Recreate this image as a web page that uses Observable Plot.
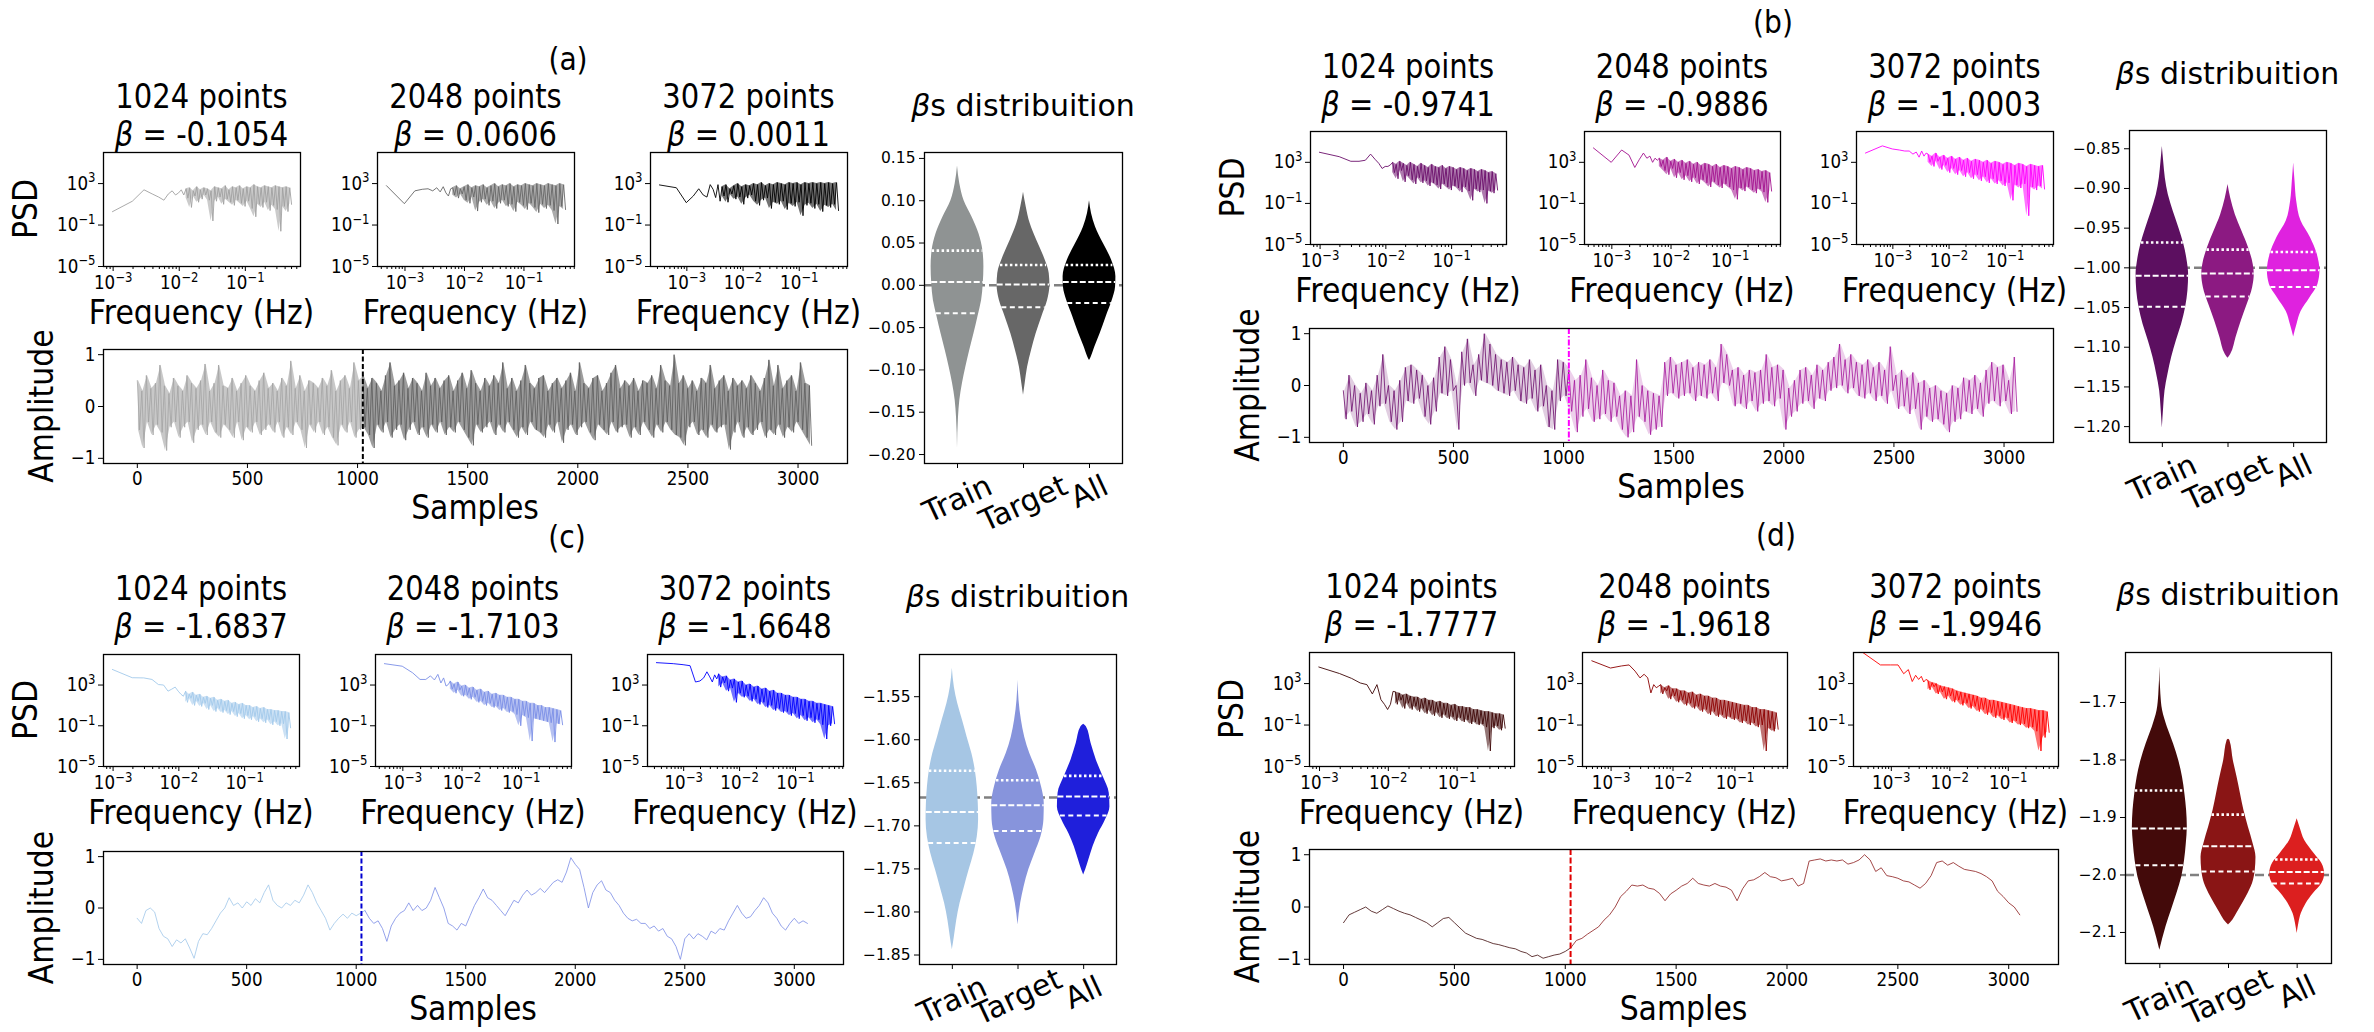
<!DOCTYPE html>
<html><head><meta charset="utf-8">
<script src="https://cdn.jsdelivr.net/npm/d3@7"></script>
<script src="https://cdn.jsdelivr.net/npm/@observablehq/plot@0.6"></script>
<style>
body{margin:0;background:#fff}
#fig{position:relative;width:2374px;height:1032px;overflow:hidden;background:#fff;font-family:"DejaVu Sans"}
</style>
</head><body><div id="fig"></div>
<script>
// ---------------- DATA ----------------
const categories = ["Train", "Target", "All"];
const psdSizes = [1024, 2048, 3072];
const panelLetters = ["(a)", "(b)", "(c)", "(d)"];
const betaLabelsA = ["-0.1054", "0.0606", "0.0011"];
const betaLabelsB = ["-0.9741", "-0.9886", "-1.0003"];
const betaLabelsC = ["-1.6837", "-1.7103", "-1.6648"];
const betaLabelsD = ["-1.7777", "-1.9618", "-1.9946"];
const refBeta = [0, -1, -1.667, -2];

// PSD: log10 power for the first 12 frequency bins, then upper/lower envelope of the dense part
const psdLowA = [[0.29,1.3,2.4,2.0,1.7,1.4,2.0,2.3,1.9,2.1,2.4,1.9],[2.8,1.06,2.3,2.45,2.5,2.3,2.6,2.2,2.7,2.1,1.8,2.5],[2.87,2.6,1.16,1.8,2.5,1.9,1.7,2.9,2.45,1.65,2.9,1.3]];
const psdHiA = [[2.5,2.6,2.3,2.7,2.4,2.6,2.5,2.3,2.7,2.6,2.5,2.8,2.4,2.7,2.6,2.8,2.5,2.7,2.6,2.9,2.7,2.6,2.8,2.7,2.6,2.8,2.7,2.6,2.7,2.6],
  [2.6,2.8,2.5,2.7,2.9,2.6,2.8,2.7,2.9,2.6,2.8,3.0,2.7,2.9,2.8,3.0,2.7,2.9,2.8,3.0,2.9,2.8,3.0,2.9,2.8,3.0,2.9,2.8,3.0,2.9],
  [2.7,2.9,2.5,2.8,3.0,2.7,2.9,2.8,3.0,2.9,3.1,2.8,3.0,2.9,3.1,3.0,2.9,3.1,3.0,3.1,2.9,3.1,3.0,3.1,3.0,3.1,3.0,3.1,3.0,3.1]];
const psdLoA = [[1.6,0.7,1.8,1.2,1.5,1.9,1.4,-0.6,1.3,1.7,1.0,1.5,1.2,0.9,1.4,1.1,0.8,1.3,0.6,-0.2,1.0,0.7,1.2,0.4,0.9,0.5,-1.6,0.8,0.3,1.0],
  [1.9,1.6,2.0,1.4,1.1,1.7,0.35,1.2,1.5,0.9,1.3,0.6,1.1,1.4,0.8,1.0,0.3,1.2,0.9,0.5,1.1,0.7,0.2,1.0,0.6,0.9,0.4,-0.9,0.8,0.5],
  [1.8,1.2,2.0,1.5,1.7,1.0,1.6,1.9,1.3,0.9,1.4,1.6,0.6,1.2,1.0,1.3,0.5,1.1,0.8,1.2,-0.1,0.9,1.1,0.6,1.0,0.3,0.9,0.7,1.0,0.4]];

const psdLowB = [[3.98,3.55,3.1,3.1,3.2,3.8,3.3,2.9,2.4,2.6,2.6,2.75],[4.4,3.0,4.2,3.7,2.5,3.3,3.9,3.4,3.6,3.0,3.4,3.2],[3.9,4.6,4.3,4.2,4.1,4.1,3.8,4.0,3.5,4.1,3.6,3.9]];
const psdHiB = [[3.0,2.8,3.1,2.9,2.7,3.0,2.8,2.6,2.9,2.7,2.5,2.8,2.6,2.5,2.7,2.4,2.6,2.5,2.3,2.5,2.4,2.2,2.4,2.3,2.1,2.3,2.2,2.0,2.1,1.9],
  [3.4,3.2,3.5,3.1,3.3,3.0,3.2,2.9,3.1,2.8,3.0,2.7,2.9,2.8,2.6,2.8,2.5,2.7,2.6,2.4,2.6,2.5,2.3,2.5,2.4,2.2,2.3,2.1,2.2,2.0],
  [3.8,3.6,3.9,3.5,3.7,3.4,3.6,3.3,3.5,3.2,3.4,3.1,3.3,3.2,3.0,3.2,2.9,3.1,3.0,2.8,3.0,2.9,2.7,2.9,2.8,2.6,2.8,2.7,2.6,2.7]];
const psdLoB = [[2.0,1.4,2.2,1.1,1.7,1.3,0.9,1.5,1.0,1.2,0.7,1.0,0.8,0.4,0.9,0.6,0.3,0.7,0.5,0.1,0.6,0.2,-0.7,0.4,0.1,0.3,-1.0,0.2,0.0,0.3],
  [2.6,2.2,1.8,2.4,1.5,2.0,1.3,1.7,1.1,1.5,0.9,1.3,1.0,0.6,1.1,0.8,0.5,0.9,0.6,0.3,-0.6,0.5,0.2,0.6,0.3,0.0,0.4,0.1,-0.9,0.2],
  [3.0,2.6,3.1,2.3,2.7,2.0,2.4,1.8,2.2,1.6,2.0,1.4,1.8,1.2,1.6,1.0,1.4,0.9,1.2,0.7,1.0,-0.7,0.8,0.5,0.9,-2.2,0.6,0.3,0.7,0.4]];

const psdLowC = [[4.53,3.72,3.7,3.55,3.05,3.0,2.4,2.6,2.8,2.4,2.1,1.9],[5.1,4.85,4.2,3.55,3.55,3.9,3.5,4.05,3.2,3.7,2.9,3.05],[5.2,5.1,5.0,4.9,3.3,3.4,3.7,4.3,3.8,3.3,4.0,3.6]];
const psdHiC = [[2.4,2.1,2.3,2.0,2.1,1.8,1.9,1.7,1.8,1.5,1.6,1.4,1.5,1.2,1.3,1.1,1.2,1.0,1.0,0.8,0.9,0.7,0.8,0.6,0.6,0.5,0.5,0.4,0.4,0.3],
  [3.4,3.1,3.3,2.9,3.0,2.7,2.8,2.5,2.6,2.3,2.4,2.1,2.2,2.0,2.0,1.8,1.8,1.6,1.6,1.4,1.4,1.2,1.2,1.0,1.0,0.8,0.8,0.7,0.6,0.5],
  [4.1,3.8,3.9,3.5,3.6,3.3,3.4,3.0,3.1,2.8,2.9,2.6,2.7,2.4,2.5,2.2,2.2,2.0,2.0,1.8,1.8,1.6,1.6,1.4,1.4,1.2,1.2,1.1,1.0,0.9]];
const psdLoC = [[1.3,1.7,1.0,1.4,0.9,1.2,0.6,1.0,0.4,0.7,0.3,0.5,0.1,0.4,-0.1,0.2,-0.3,0.0,-0.4,-0.1,-0.6,-0.3,-0.7,-0.4,-0.9,-0.6,-1.0,-0.8,-2.3,-1.2],
  [2.6,2.2,2.5,1.9,2.0,1.6,1.8,1.3,1.4,1.0,1.2,0.8,0.9,0.5,0.7,0.3,0.4,0.1,-1.0,0.0,-0.2,-2.5,-0.3,-0.4,-0.5,-0.6,-0.7,-2.6,-0.8,-0.9],
  [2.8,3.2,2.4,2.7,1.3,2.2,1.8,1.9,1.4,1.6,1.1,1.3,0.8,1.0,0.5,0.7,0.3,0.4,0.0,0.2,-0.3,0.0,-0.5,-0.2,-0.7,-0.4,-0.9,-2.3,-1.0,-0.8]];

const psdLowD = [[4.6,3.97,3.5,3.06,2.9,2.0,2.9,1.45,1.0,0.5,1.0,2.25],[5.2,4.5,4.7,4.8,4.2,3.55,3.9,3.55,2.1,2.9,2.6,2.75],[6.0,4.8,4.8,4.8,3.95,4.35,3.2,3.8,3.4,3.7,3.15,3.4]];
const psdHiD = [[2.2,2.1,1.9,2.0,1.8,1.7,1.7,1.5,1.6,1.4,1.4,1.2,1.3,1.1,1.1,0.9,1.0,0.8,0.8,0.7,0.7,0.5,0.5,0.4,0.3,0.3,0.2,0.1,0.1,0.0],
  [2.9,2.6,2.8,2.5,2.5,2.3,2.3,2.1,2.2,1.9,2.0,1.8,1.8,1.6,1.6,1.4,1.4,1.3,1.2,1.1,1.0,0.9,0.9,0.7,0.7,0.5,0.5,0.4,0.3,0.2],
  [3.3,3.1,3.0,2.8,2.7,2.6,2.5,2.3,2.2,2.1,2.0,1.9,1.8,1.6,1.6,1.4,1.4,1.3,1.2,1.1,1.0,0.9,0.8,0.7,0.6,0.6,0.5,0.4,0.4,0.3]];
const psdLoD = [[1.0,1.4,0.6,1.1,0.5,0.8,0.3,0.6,0.1,0.4,-0.1,0.2,-0.3,0.0,-0.4,-0.2,-0.6,-0.3,-0.7,-0.5,-0.9,-0.7,-1.0,-0.9,-1.2,-3.5,-1.3,-1.1,-1.5,-1.3],
  [2.0,2.3,1.5,1.8,1.2,1.4,0.9,1.1,0.6,0.8,0.3,0.5,0.0,0.3,-0.2,0.0,-0.4,-0.2,-0.5,-0.4,-0.8,-0.6,-1.0,-0.8,-1.2,-1.0,-3.5,-1.3,-1.6,-1.4],
  [2.4,2.7,2.0,2.2,1.5,1.8,1.2,1.4,0.9,1.1,0.6,0.8,0.3,0.5,0.0,0.2,-0.3,-0.1,-0.5,-0.3,-0.8,-0.6,-1.0,-0.9,-1.3,-1.2,-1.6,-3.5,-2.2,-1.7]];

// Time series. (a),(b): upper/lower swing of the noisy trace; (c) every 20 samples; (d) every 25 samples
const tsHiA = [0.5,0.3,0.6,0.35,0.45,0.8,0.4,0.25,0.55,0.4, 0.3,0.6,0.45,0.35,0.5,0.82,0.3,0.45,0.8,0.4, 0.35,0.55,0.3,0.45,0.6,0.4,0.3,0.5,0.65,0.35,
  0.45,0.3,0.55,0.4,0.88,0.35,0.6,0.3,0.5,0.45, 0.35,0.55,0.4,0.7,0.3,0.5,0.6,0.35,0.85,0.5, 0.6,0.35,0.55,0.45,0.3,0.6,0.85,0.4,0.5,0.65,
  0.35,0.55,0.45,0.3,0.65,0.4,0.55,0.35,0.5,0.6, 0.3,0.5,0.65,0.35,0.7,0.45,0.3,0.55,0.4,0.6, 0.45,0.85,0.35,0.55,0.3,0.5,0.8,0.45,0.35,0.55,
  0.6,0.3,0.45,0.55,0.35,0.5,0.65,0.3,0.85,0.45, 0.35,0.55,0.6,0.3,0.45,0.65,0.8,0.35,0.5,0.4, 0.55,0.3,0.5,0.45,0.6,0.35,0.8,0.5,0.4,1.0,
  0.45,0.6,0.35,0.5,0.3,0.55,0.45,0.8,0.35,0.5, 0.6,0.3,0.55,0.4,0.5,0.35,0.6,0.45,0.3,0.55, 0.9,0.4,0.8,0.35,0.5,0.6,0.3,0.85,0.45,0.4];
const tsLoA = [-0.45,-0.8,-0.3,-0.55,-0.35,-0.5,-0.85,-0.4,-0.3,-0.6, -0.4,-0.3,-0.7,-0.45,-0.35,-0.55,-0.3,-0.5,-0.6,-0.35, -0.45,-0.6,-0.3,-0.65,-0.4,-0.5,-0.3,-0.55,-0.45,-0.35,
  -0.5,-0.3,-0.6,-0.4,-0.55,-0.3,-0.45,-0.8,-0.35,-0.5, -0.3,-0.55,-0.4,-0.6,-0.75,-0.35,-0.5,-0.3,-0.6,-0.45, -0.4,-0.55,-0.8,-0.35,-0.5,-0.3,-0.6,-0.45,-0.35,-0.65,
  -0.45,-0.3,-0.55,-0.4,-0.6,-0.35,-0.5,-0.3,-0.55,-0.4, -0.5,-0.3,-0.45,-0.6,-0.75,-0.35,-0.5,-0.4,-0.3,-0.55, -0.35,-0.5,-0.3,-0.45,-0.6,-0.4,-0.55,-0.3,-0.45,-0.5,
  -0.6,-0.35,-0.5,-0.3,-0.7,-0.45,-0.35,-0.55,-0.4,-0.3, -0.5,-0.65,-0.35,-0.45,-0.55,-0.3,-0.5,-0.4,-0.35,-0.6, -0.4,-0.55,-0.3,-0.45,-0.6,-0.35,-0.5,-0.3,-0.45,-0.55,
  -0.6,-0.75,-0.4,-0.3,-0.55,-0.45,-0.6,-0.35,-0.5,-0.4, -0.35,-0.83,-0.5,-0.3,-0.6,-0.4,-0.55,-0.45,-0.3,-0.6, -0.45,-0.55,-0.35,-0.6,-0.4,-0.5,-0.3,-0.45,-0.6,-0.75];
const tsHiB = [-0.1,0.2,0.0,-0.15,0.05,-0.1,0.2,0.6,0.0,-0.1, 0.1,0.35,0.4,0.3,0.2,0.0,0.15,0.55,0.75,0.5, 0.0,0.65,0.9,0.4,0.6,1.0,0.8,0.6,0.5,0.45,
  0.55,0.4,0.35,0.5,0.3,0.4,0.0,-0.1,0.5,0.45, 0.3,0.1,0.2,0.5,0.15,0.0,0.3,0.1,0.05,-0.2, -0.1,-0.2,0.5,0.0,-0.1,-0.15,-0.2,0.45,0.55,0.4,
  0.45,0.5,0.35,0.45,0.4,0.5,0.35,0.8,0.6,0.3, 0.35,0.2,0.3,0.25,0.3,0.6,0.35,0.4,0.3,-0.05, 0.1,0.3,0.35,0.2,0.4,0.3,0.45,0.55,0.8,0.5,
  0.6,0.45,0.4,0.5,0.35,0.45,0.3,0.75,0.2,0.3, 0.15,0.25,0.05,0.1,-0.05,0.0,-0.1,-0.15,0.0,-0.05, 0.15,0.1,0.2,0.05,0.3,0.45,0.35,0.4,0.1,0.55];
const tsLoB = [-0.65,-0.5,-0.8,-0.7,-0.55,-0.75,-0.4,-0.35,-0.7,-0.85, -0.7,-0.3,-0.35,-0.25,-0.6,-0.75,-0.5,-0.15,-0.2,-0.1, -0.85,0.0,0.05,-0.2,0.1,0.05,0.0,-0.1,-0.15,-0.2,
  -0.1,-0.3,-0.35,-0.25,-0.5,-0.4,-0.8,-0.85,-0.3,-0.2, -0.5,-0.9,-0.6,-0.45,-0.7,-0.65,-0.55,-0.7,-0.6,-0.85, -1.0,-0.9,-0.6,-0.7,-0.95,-0.85,-0.8,-0.2,-0.15,-0.25,
  -0.2,-0.15,-0.3,-0.2,-0.25,-0.15,-0.3,0.05,0.0,-0.4, -0.35,-0.45,-0.3,-0.5,-0.35,-0.3,-0.4,-0.25,-0.85,-0.6, -0.5,-0.35,-0.3,-0.45,-0.25,-0.3,-0.1,-0.05,0.0,-0.15,
  -0.05,-0.2,-0.25,-0.15,-0.3,-0.2,-0.35,-0.1,-0.45,-0.4, -0.55,-0.45,-0.85,-0.6,-0.7,-0.65,-0.75,-0.9,-0.7,-0.65, -0.5,-0.55,-0.45,-0.6,-0.35,-0.3,-0.4,-0.3,-0.55,-0.5];
const tsC = [-0.2,-0.3,-0.05,0.0,-0.08,-0.4,-0.55,-0.6,-0.75,-0.62, -0.68,-0.6,-0.78,-0.98,-0.65,-0.5,-0.52,-0.4,-0.25,-0.1,
  0.0,0.2,0.05,0.1,0.0,0.12,0.05,0.18,0.1,0.3, 0.45,0.15,0.05,0.0,0.1,0.05,0.15,0.1,0.25,0.45,
  0.3,0.1,-0.05,-0.2,-0.43,-0.3,-0.2,-0.12,-0.2,-0.1, -0.15,-0.1,-0.05,-0.2,-0.3,-0.25,-0.4,-0.65,-0.35,-0.2,
  -0.1,-0.05,0.1,-0.05,0.05,-0.05,0.0,0.15,0.4,0.2, 0.0,-0.3,-0.35,-0.43,-0.3,-0.35,-0.15,0.05,0.2,0.37,
  0.2,0.15,0.05,-0.05,-0.15,0.0,0.15,0.1,0.25,0.35, 0.25,0.3,0.38,0.3,0.4,0.5,0.55,0.5,0.7,0.98,
  0.85,0.75,0.4,0.0,0.3,0.45,0.53,0.35,0.3,0.15, 0.05,-0.1,-0.2,-0.25,-0.22,-0.3,-0.3,-0.4,-0.35,-0.45,
  -0.4,-0.55,-0.6,-0.75,-1.0,-0.6,-0.5,-0.6,-0.5,-0.55, -0.62,-0.45,-0.5,-0.4,-0.43,-0.25,-0.1,0.05,-0.1,-0.2,
  -0.17,-0.05,0.05,0.2,0.1,-0.1,-0.2,-0.35,-0.43,-0.3, -0.2,-0.3,-0.25,-0.3];
const tsD = [-0.3,-0.15,-0.1,-0.05,0.0,-0.08,-0.12,-0.05,0.02,-0.03, -0.08,-0.12,-0.15,-0.2,-0.25,-0.3,-0.38,-0.3,-0.22,-0.2,
  -0.3,-0.4,-0.5,-0.55,-0.6,-0.62,-0.66,-0.7,-0.72,-0.75, -0.78,-0.8,-0.85,-0.88,-0.95,-0.92,-0.98,-0.95,-0.92,-0.9,
  -0.85,-0.78,-0.64,-0.6,-0.52,-0.45,-0.38,-0.25,-0.15,0.0, 0.2,0.3,0.42,0.4,0.42,0.36,0.34,0.26,0.12,0.25,
  0.32,0.4,0.45,0.55,0.45,0.42,0.4,0.45,0.4,0.38, 0.32,0.12,0.35,0.5,0.52,0.58,0.66,0.58,0.56,0.5,
  0.52,0.55,0.4,0.45,0.88,0.9,0.92,0.88,0.9,0.88, 0.9,0.82,0.85,0.9,1.0,0.9,0.68,0.75,0.6,0.58,
  0.55,0.5,0.48,0.42,0.36,0.45,0.6,0.85,0.88,0.8, 0.85,0.78,0.72,0.7,0.68,0.64,0.58,0.5,0.3,0.2, 0.08,0.0,-0.15];

// Violins: beta values (top to bottom) and relative density width; quartiles [q75, median, q25]
const vBetaA = [[0.141,0.12,0.10,0.08,0.061,0.041,0.022,0.002,-0.018,-0.037,-0.057,-0.077,-0.097,-0.116,-0.136,-0.156,-0.193],
  [0.110,0.093,0.073,0.053,0.033,0.014,0.0,-0.018,-0.037,-0.057,-0.077,-0.097,-0.116,-0.130],
  [0.100,0.085,0.069,0.049,0.030,0.010,-0.002,-0.018,-0.037,-0.057,-0.073,-0.085,-0.089]];
const vDensA = [[0,7,20,45,65,77,80,78,73,62,50,37,25,15,7,3,0],[0,8,20,40,62,77,79,72,55,38,24,12,5,0],[0,6,18,42,66,79,78,68,50,32,16,5,0]];
const vQuartA = [[0.041,0.004,-0.033],[0.024,0.001,-0.026],[0.024,0.004,-0.021]];
const vBetaB = [[-0.847,-0.866,-0.887,-0.908,-0.929,-0.950,-0.971,-0.992,-1.008,-1.029,-1.050,-1.071,-1.092,-1.113,-1.134,-1.155,-1.176,-1.202],
  [-0.895,-0.912,-0.933,-0.954,-0.975,-0.996,-1.008,-1.025,-1.046,-1.067,-1.088,-1.109,-1.114],
  [-0.868,-0.891,-0.916,-0.941,-0.962,-0.983,-1.004,-1.021,-1.038,-1.055,-1.071,-1.087]];
const vDensB = [[0,4,9,18,33,50,65,75,79,77,70,58,42,28,17,8,4,0],[0,8,22,42,62,76,79,74,58,40,24,8,0],[0,4,9,22,50,70,78,72,48,22,10,0]];
const vQuartB = [[-0.968,-1.010,-1.049],[-0.977,-1.007,-1.036],[-0.980,-1.003,-1.024]];
const vBetaC = [[-1.517,-1.539,-1.558,-1.577,-1.597,-1.616,-1.635,-1.655,-1.674,-1.693,-1.713,-1.732,-1.751,-1.771,-1.790,-1.810,-1.829,-1.844],
  [-1.531,-1.554,-1.577,-1.597,-1.616,-1.635,-1.655,-1.674,-1.693,-1.713,-1.732,-1.751,-1.771,-1.790,-1.815],
  [-1.582,-1.585,-1.604,-1.624,-1.643,-1.662,-1.678,-1.693,-1.709,-1.724,-1.740,-1.751,-1.757]];
const vDensC = [[0,6,16,30,44,58,68,74,77,78,74,64,50,36,23,13,6,0],[0,3,10,20,35,55,70,78,77,68,50,32,18,8,0],[0,8,22,38,58,76,78,65,44,28,15,6,0]];
const vQuartC = [[-1.636,-1.684,-1.720],[-1.647,-1.676,-1.706],[-1.642,-1.666,-1.688]];
const vBetaD = [[-1.638,-1.686,-1.714,-1.743,-1.772,-1.801,-1.830,-1.859,-1.888,-1.917,-1.946,-1.975,-2.003,-2.032,-2.061,-2.090,-2.131],
  [-1.764,-1.766,-1.801,-1.830,-1.859,-1.888,-1.917,-1.946,-1.969,-1.992,-2.015,-2.038,-2.061,-2.084,-2.087],
  [-1.902,-1.917,-1.940,-1.963,-1.980,-1.998,-2.015,-2.032,-2.050,-2.067,-2.084,-2.102]];
const vDensD = [[0,3,8,22,40,55,66,73,78,80,77,72,64,50,34,18,0],[0,4,14,25,35,45,58,72,80,78,70,52,30,5,0],[0,8,22,50,72,80,72,48,26,12,5,0]];
const vQuartD = [[-1.853,-1.919,-1.983],[-1.895,-1.950,-1.994],[-1.973,-1.995,-2.015]];

const vTicksA = [-0.20,-0.15,-0.10,-0.05,0.00,0.05,0.10,0.15];
const vTicksB = [-1.20,-1.15,-1.10,-1.05,-1.00,-0.95,-0.90,-0.85];
const vTicksC = [-1.85,-1.80,-1.75,-1.70,-1.65,-1.60,-1.55];
const vTicksD = [-2.1,-2.0,-1.9,-1.8,-1.7];
const tsTicks = [0,500,1000,1500,2000,2500,3000];
const ampTicks = [-1,0,1];
const psdYTicks = [1e-5,1e-1,1e3];
const psdXTicks = [1e-3,1e-2,1e-1];

// ---------------- LAYOUT & STYLE ----------------
const layouts = [
  {letter:[568,70], title:[108,146], vTitle:116, psd:[[103,300],[377,574],[650,847]], psdY:[152,266], ts:[103,847,349,463], vio:[924,1122,152,463], vDom:[-0.2106,0.157]},
  {letter:[1773,33], title:[78,116], vTitle:84, psd:[[1310,1506],[1584,1780],[1856,2053]], psdY:[131,244], ts:[1309,2053,328,442], vio:[2129,2326,130,442], vDom:[-1.220,-0.827]},
  {letter:[567,548], title:[600,638], vTitle:607, psd:[[103,299],[375,571],[647,843]], psdY:[654,766], ts:[103,843,851,964], vio:[919,1116,654,964], vDom:[-1.861,-1.501]},
  {letter:[1776,546], title:[598,636], vTitle:605, psd:[[1309,1514],[1582,1787],[1853,2058]], psdY:[652,766], ts:[1309,2058,849,964], vio:[2125,2331,652,963], vDom:[-2.154,-1.613]}
];
const styles = [
  {psd:["#a0a0a0","#666666","#000000"], ts:["#a3a3a3","#5c5c5c"], vline:"#000000", vdash:"5,2.5", violin:["#8f9393","#676767","#000000"], band:0.6},
  {psd:["#6b0f6b","#a3128f","#ff00ff"], ts:["#6b0b6b","#a3149b"], vline:"#ff00ff", vdash:"6,2,1.5,2", violin:["#5c0f60","#8c1a82","#df22df"], band:0.2},
  {psd:["#a3c9eb","#7a8ee6","#0000ff"], ts:["#9fc7ea","#7a8ce6"], vline:"#0000d0", vdash:"5,2.5", violin:["#a6c6e4","#8794dc","#1f1fdb"], band:0},
  {psd:["#3d0606","#8b0000","#ff0000"], ts:["#3d0a0a","#8b1a1a"], vline:"#e00000", vdash:"6,2.5", violin:["#430a0a","#8a1515","#dc1f1f"], band:0}
];
const FONT = "DejaVu Sans";
const SX = 0.88;           // condensed look of the left sub-figures' texts
const BIG = 34, TITLE = 33, TICK = 19;
const fig = document.getElementById("fig");
const NS = "http://www.w3.org/2000/svg";

function sub(box, m, options) {
  const [x0, x1, y0, y1] = box;
  const svg = Plot.plot({
    width: x1 - x0 + m[3] + m[1], height: y1 - y0 + m[0] + m[2],
    marginTop: m[0], marginRight: m[1], marginBottom: m[2], marginLeft: m[3],
    style: {fontFamily: FONT, fontSize: "15px", background: "transparent", overflow: "visible", color: "black"},
    ...options
  });
  svg.style.position = "absolute";
  svg.style.left = (x0 - m[3]) + "px";
  svg.style.top = (y0 - m[0]) + "px";
  svg.style.maxWidth = "none";
  fig.appendChild(svg);
  return svg;
}
// condense tick labels and build 10^n labels with a real superscript
function condense(svg, sx) {
  svg.querySelectorAll('g[aria-label$="tick label"] text').forEach(t => {
    let tr = t.getAttribute("transform") || "";
    const x = t.getAttribute("x");
    if (x !== null) { t.removeAttribute("x"); tr += ` translate(${x},0)`; }
    t.setAttribute("transform", tr + ` scale(${sx},1)`);
    const s = t.textContent;
    if (s.includes("^")) {
      const [base, ex] = s.split("^");
      t.textContent = "";
      const a = document.createElementNS(NS, "tspan"); a.textContent = base; t.appendChild(a);
      const b = document.createElementNS(NS, "tspan"); b.textContent = ex; b.setAttribute("font-size", "0.7em"); b.setAttribute("dy", "-0.55em"); t.appendChild(b);
    }
  });
}
const powFmt = v => { const e = Math.round(Math.log10(v)); return "10^" + (e < 0 ? "−" : "") + Math.abs(e); };
const minusFmt = dec => v => (v < -1e-9 ? "−" : "") + Math.abs(v).toFixed(dec);

function psdPlot(box, psdY, N, low, hi, lo, color) {
  const pts = low.map((lp, i) => ({f: (i + 1) / N, p: 10 ** lp}));
  const a = Math.log10(13 / N), b = Math.log10(0.5), step = (b - a) / (hi.length - 0.5);
  const band = [];
  hi.forEach((h, j) => {
    const f1 = 10 ** (a + j * step), f2 = 10 ** (a + (j + 0.5) * step);
    pts.push({f: f1, p: 10 ** h}); pts.push({f: f2, p: 10 ** lo[j]});
    band.push({f: f1, lo: 10 ** Math.min(lo[j], h), hi: 10 ** h});
  });
  const l0 = Math.log10(1 / N), l1 = Math.log10(0.5), R = l1 - l0;
  const dom = [10 ** (l0 - 0.05 * R), 10 ** (l1 + 0.05 * R)];
  const minor = [];
  for (let e = -4; e <= 0; e++) for (let k = 2; k <= 9; k++) { const v = k * 10 ** e; if (v >= dom[0] && v <= dom[1]) minor.push(v); }
  const svg = sub([box[0], box[1], psdY[0], psdY[1]], [6, 6, 36, 60], {
    x: {type: "log", domain: dom},
    y: {type: "log", domain: [1e-5, 1e6]},
    marks: [
      Plot.areaY(band, {x: "f", y1: "lo", y2: "hi", fill: color, fillOpacity: 0.55}),
      Plot.line(pts, {x: "f", y: "p", stroke: color, strokeWidth: 0.9, clip: true}),
      Plot.frame({stroke: "black", strokeWidth: 1.3}),
      Plot.axisX(minor, {tickSize: 3, tickFormat: () => "", label: null}),
      Plot.axisX(psdXTicks, {tickSize: 5, tickPadding: 4, tickFormat: powFmt, label: null, fontSize: TICK}),
      Plot.axisY(psdYTicks, {tickSize: 5, tickPadding: 3, tickFormat: powFmt, label: null, fontSize: TICK})
    ]
  });
  condense(svg, SX);
}

function tsPlot(box, pts, band, st) {
  const a = pts.filter(d => d.x < 1024), b = pts.filter(d => d.x >= 1024);
  a.push(b[0]);
  const marks = [];
  if (band) {
    const ba = band.filter(d => d.x < 1024), bb = band.filter(d => d.x >= 1024);
    ba.push(bb[0]);
    marks.push(Plot.areaY(ba, {x: "x", y1: "lo", y2: "hi", fill: st.ts[0], fillOpacity: st.band}));
    marks.push(Plot.areaY(bb, {x: "x", y1: "lo", y2: "hi", fill: st.ts[1], fillOpacity: st.band}));
  }
  marks.push(
    Plot.line(a, {x: "x", y: "y", stroke: st.ts[0], strokeWidth: 0.8}),
    Plot.line(b, {x: "x", y: "y", stroke: st.ts[1], strokeWidth: 0.8}),
    Plot.ruleX([1024], {stroke: st.vline, strokeWidth: 2, strokeDasharray: st.vdash}),
    Plot.frame({stroke: "black", strokeWidth: 1.3}),
    Plot.axisX(tsTicks, {tickSize: 5, tickPadding: 3, tickFormat: d => String(d), label: null, fontSize: TICK}),
    Plot.axisY(ampTicks, {tickSize: 5, tickPadding: 3, tickFormat: v => (v < 0 ? "−" : "") + Math.abs(v), label: null, fontSize: TICK})
  );
  const svg = sub(box, [6, 6, 36, 44], {x: {domain: [-153.55, 3224.55]}, y: {domain: [-1.1, 1.1]}, marks});
  condense(svg, SX);
}
const zig = (hi, lo) => { const step = 3072 / hi.length; const out = []; hi.forEach((h, j) => { out.push({x: j * step, y: h}); out.push({x: (j + 0.5) * step, y: lo[j]}); }); return out; };
const zigBand = (hi, lo) => { const step = 3072 / hi.length; return hi.map((h, j) => ({x: (j + 0.25) * step, hi: h, lo: lo[j]})); };
const even = (vals, step) => vals.map((v, i) => ({x: i * step, y: v}));

const ctx = document.createElement("canvas").getContext("2d");
ctx.font = "30px 'DejaVu Sans'";
function violinPlot(L, st, betas, dens, quarts, ref, ticks, fmt) {
  const marks = [Plot.ruleY([ref], {stroke: "#808080", strokeWidth: 2.5, strokeDasharray: "9,4"})];
  const qRows = [[], [], []];
  betas.forEach((bs, i) => {
    const mx = d3.max(dens[i]);
    const rows = bs.map((b, k) => ({b, w: 0.4 * dens[i][k] / mx})).reverse();
    marks.push(Plot.areaX(rows, {y: "b", x1: d => i - d.w, x2: d => i + d.w, fill: st.violin[i], curve: "monotone-y"}));
    const wAt = d3.scaleLinear().domain(rows.map(d => d.b)).range(rows.map(d => d.w));
    quarts[i].forEach((q, k) => qRows[k].push({y: q, x1: i - wAt(q), x2: i + wAt(q)}));
  });
  marks.push(Plot.ruleY(qRows[0], {y: "y", x1: "x1", x2: "x2", stroke: "white", strokeWidth: 2.6, strokeDasharray: "2.5,2.5"}));
  marks.push(Plot.ruleY(qRows[1], {y: "y", x1: "x1", x2: "x2", stroke: "white", strokeWidth: 2, strokeDasharray: "6,2.5"}));
  marks.push(Plot.ruleY(qRows[2], {y: "y", x1: "x1", x2: "x2", stroke: "white", strokeWidth: 2, strokeDasharray: "5,3.5"}));
  marks.push(Plot.frame({stroke: "black", strokeWidth: 1.3}));
  marks.push(Plot.axisY(ticks, {tickSize: 5, tickPadding: 4, tickFormat: fmt, label: null, fontSize: 15.5}));
  marks.push(Plot.axisX([0, 1, 2], {tickSize: 5, tickFormat: () => "", label: null}));
  const bottom = L.vio[3];
  categories.forEach((c, i) => {
    const w = ctx.measureText(c).width;
    const bh = w * Math.sin(25 * Math.PI / 180) + 28 * Math.cos(25 * Math.PI / 180);
    const dy = Math.min(8 + bh / 2, 1029 - bottom - bh / 2);
    marks.push(Plot.text([c], {x: i, y: L.vDom[0], text: d => d, rotate: -25, textAnchor: "middle", lineAnchor: "middle", dy, fontSize: 30}));
  });
  sub(L.vio, [6, 6, 100, 60], {x: {domain: [-0.5, 2.5]}, y: {domain: L.vDom}, marks});
}

// overlay texts (one <text> per label; a two-line title is one <text> with two lines)
const over = document.createElementNS(NS, "svg");
over.setAttribute("width", 2374); over.setAttribute("height", 1032);
over.style.cssText = "position:absolute;left:0;top:0;pointer-events:none;font-family:'DejaVu Sans'";
function label(x, y, lines, size, rotate = 0, sx = 1, gap = 0) {
  const t = document.createElementNS(NS, "text");
  t.setAttribute("text-anchor", "middle");
  t.setAttribute("font-size", size); t.setAttribute("fill", "black");
  t.setAttribute("transform", `translate(${x},${y}) rotate(${rotate}) scale(${sx},1)`);
  lines.forEach((parts, li) => {
    const line = document.createElementNS(NS, "tspan");
    line.setAttribute("x", 0); line.setAttribute("dy", li === 0 ? 0 : gap);
    for (const [s, it] of parts) { const sp = document.createElementNS(NS, "tspan"); sp.textContent = s; if (it) sp.setAttribute("font-style", "italic"); line.appendChild(sp); }
    t.appendChild(line);
  });
  over.appendChild(t);
}

const allPsdLow = [psdLowA, psdLowB, psdLowC, psdLowD], allPsdHi = [psdHiA, psdHiB, psdHiC, psdHiD], allPsdLo = [psdLoA, psdLoB, psdLoC, psdLoD];
const allBeta = [betaLabelsA, betaLabelsB, betaLabelsC, betaLabelsD];
const allTs = [zig(tsHiA, tsLoA), zig(tsHiB, tsLoB), even(tsC, 20), even(tsD, 25)];
const allBand = [zigBand(tsHiA, tsLoA), zigBand(tsHiB, tsLoB), null, null];
const allV = [[vBetaA, vDensA, vQuartA, vTicksA, 2], [vBetaB, vDensB, vQuartB, vTicksB, 2], [vBetaC, vDensC, vQuartC, vTicksC, 2], [vBetaD, vDensD, vQuartD, vTicksD, 1]];

layouts.forEach((L, p) => {
  const st = styles[p];
  psdSizes.forEach((N, i) => {
    psdPlot(L.psd[i], L.psdY, N, allPsdLow[p][i], allPsdHi[p][i], allPsdLo[p][i], st.psd[i]);
    const cx = (L.psd[i][0] + L.psd[i][1]) / 2;
    label(cx, L.title[0], [[[N + " points", false]], [["β", true], [" = " + allBeta[p][i], false]]], TITLE, 0, SX, L.title[1] - L.title[0]);
    label(cx, L.psdY[1] + 58, [[["Frequency (Hz)", false]]], BIG, 0, SX);
  });
  label(L.psd[0][0] - 66, (L.psdY[0] + L.psdY[1]) / 2, [[["PSD", false]]], BIG, -90, SX);
  tsPlot(L.ts, allTs[p], allBand[p], st);
  label(L.ts[0] - 50, (L.ts[2] + L.ts[3]) / 2, [[["Amplitude", false]]], 34, -90, SX);
  label((L.ts[0] + L.ts[1]) / 2, L.ts[3] + 56, [[["Samples", false]]], BIG, 0, SX);
  const [vb, vd, vq, vt, dec] = allV[p];
  violinPlot(L, st, vb, vd, vq, refBeta[p], vt, minusFmt(dec));
  label((L.vio[0] + L.vio[1]) / 2, L.vTitle, [[["β", true], ["s distribuition", false]]], 30);
  label(L.letter[0], L.letter[1], [[[panelLetters[p], false]]], 32, 0, SX);
});
fig.appendChild(over);
</script>
</body></html>
